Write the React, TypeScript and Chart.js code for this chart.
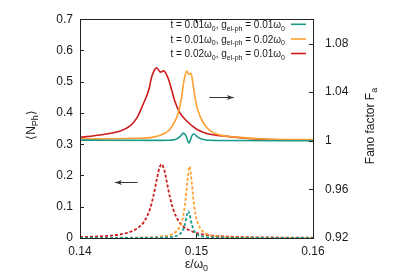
import React, { useEffect, useRef } from 'react';
import { Chart, registerables } from 'chart.js';

Chart.register(...registerables);

// ---- axis ticks ----
const xTicks = [0.14, 0.15, 0.16];
const leftTicks = [0, 0.1, 0.2, 0.3, 0.4, 0.5, 0.6, 0.7];
const rightTicks = [0.92, 0.96, 1.0, 1.04, 1.08];

// ---- <N_Ph> (dashed, left axis) ----
const tealDashX = [0.140, 0.146, 0.147, 0.148, 0.1485, 0.1488, 0.149, 0.1492, 0.1493, 0.1494, 0.1496, 0.1498, 0.1501, 0.1506, 0.1516, 0.1526, 0.160];
const tealDashY = [0.0001, 0.0007, 0.0014, 0.0043, 0.0106, 0.023, 0.043, 0.077, 0.086, 0.077, 0.043, 0.023, 0.0106, 0.0043, 0.0014, 0.0007, 0.0001];

const orangeDashX = [0.140, 0.144, 0.146, 0.147, 0.148, 0.1485, 0.1488, 0.149, 0.1492, 0.1494, 0.1496, 0.1498, 0.150, 0.1503, 0.1508, 0.1518, 0.1528, 0.1548, 0.160];
const orangeDashY = [0.0003, 0.001, 0.0025, 0.005, 0.014, 0.032, 0.061, 0.103, 0.175, 0.229, 0.175, 0.103, 0.061, 0.032, 0.014, 0.005, 0.0025, 0.001, 0.0003];

const redDashX = [0.140, 0.142, 0.143, 0.144, 0.145, 0.1455, 0.146, 0.1463, 0.1466, 0.1468, 0.1470, 0.1472, 0.1474, 0.1477, 0.148, 0.1485, 0.149, 0.150, 0.151, 0.152, 0.154, 0.157, 0.160];
const redDashY = [0.003, 0.006, 0.009, 0.016, 0.033, 0.052, 0.092, 0.134, 0.189, 0.222, 0.236, 0.222, 0.189, 0.134, 0.092, 0.052, 0.033, 0.016, 0.009, 0.006, 0.003, 0.0015, 0.001];

// ---- Fano factor (solid, right axis) ----
const tealSolidX = [0.140, 0.147, 0.1482, 0.1486, 0.14887, 0.1491, 0.14936, 0.1496, 0.14979, 0.1501, 0.1506, 0.152, 0.160];
const tealSolidY = [1.0005, 1.0003, 1.001, 1.0035, 1.0063, 1.004, 0.9982, 1.004, 1.0055, 1.003, 1.001, 1.0002, 1.0];

const orangeSolidX = [0.140, 0.1446, 0.14629, 0.14715, 0.14773, 0.14815, 0.14844, 0.14873, 0.14893, 0.14916, 0.14933, 0.14953, 0.14973, 0.14996, 0.1503, 0.15088, 0.15173, 0.15345, 0.1563, 0.160];
const orangeSolidY = [1.0014, 1.002, 1.003, 1.0055, 1.0095, 1.0162, 1.023, 1.0363, 1.0497, 1.0573, 1.0546, 1.0555, 1.0444, 1.031, 1.0203, 1.0109, 1.0055, 1.003, 1.0013, 1.001];

const redSolidX = [0.140, 0.1417, 0.1434, 0.1443, 0.1449, 0.1454, 0.1459, 0.14615, 0.14644, 0.14658, 0.1469, 0.14718, 0.14758, 0.14787, 0.14815, 0.14858, 0.14916, 0.15002, 0.15088, 0.15202, 0.1563, 0.160];
const redSolidY = [1.0028, 1.0048, 1.0078, 1.0122, 1.019, 1.0296, 1.0417, 1.0524, 1.059, 1.0600, 1.0565, 1.0575, 1.051, 1.0417, 1.0323, 1.023, 1.0162, 1.0095, 1.006, 1.0042, 1.001, 1.0008];

// ---- legend entries (text pieces: n = normal, s = subscript) ----
const legendEntries = [
  [{ n: 't = 0.01ω' }, { s: '0' }, { n: ', g' }, { s: 'el-ph' }, { n: ' = 0.01ω' }, { s: '0' }],
  [{ n: 't = 0.01ω' }, { s: '0' }, { n: ', g' }, { s: 'el-ph' }, { n: ' = 0.02ω' }, { s: '0' }],
  [{ n: 't = 0.02ω' }, { s: '0' }, { n: ', g' }, { s: 'el-ph' }, { n: ' = 0.01ω' }, { s: '0' }],
];

// ---- arrows (data coordinates) ----
const arrows = [
  { x0: 0.1511, x1: 0.1532, y: 1.036, axis: 'y1' },
  { x0: 0.14495, x1: 0.1430, y: 0.179, axis: 'y' },
];

const TEAL = '#1a9a88';
const ORANGE = '#ffa030';
const RED = '#cc1c1c';
const FONT = '"Liberation Sans", Arial, Helvetica, sans-serif';
const TEXT = '#1a1a1a';

const zip = (xs: number[], ys: number[]) => xs.map((x, i) => ({ x, y: ys[i] }));

function drawPieces(ctx: CanvasRenderingContext2D, pieces: any[], x: number, y: number, size: number, subSize: number, align: 'left' | 'right' | 'center') {
  const widths = pieces.map((p) => {
    ctx.font = `${p.s !== undefined ? subSize : size}px ${FONT}`;
    return ctx.measureText(p.s !== undefined ? p.s : p.n).width;
  });
  const total = widths.reduce((a, b) => a + b, 0);
  let cx = align === 'left' ? x : align === 'right' ? x - total : x - total / 2;
  ctx.textAlign = 'left';
  ctx.textBaseline = 'alphabetic';
  pieces.forEach((p, i) => {
    const isSub = p.s !== undefined;
    ctx.font = `${isSub ? subSize : size}px ${FONT}`;
    ctx.fillText(isSub ? p.s : p.n, cx, isSub ? y + size * 0.28 : y);
    cx += widths[i];
  });
  return total;
}

const decor = {
  id: 'decor',
  afterDraw(chart: any) {
    const { ctx, chartArea } = chart;
    const { left, right, top, bottom } = chartArea;
    const xs = chart.scales.x, yl = chart.scales.y, yr = chart.scales.y1;
    ctx.save();
    // border
    ctx.strokeStyle = '#222';
    ctx.lineWidth = 1;
    ctx.strokeRect(Math.round(left) + 0.5, Math.round(top) + 0.5, Math.round(right - left), Math.round(bottom - top));
    // inward ticks
    const tl = 4;
    ctx.beginPath();
    xTicks.forEach((v) => {
      const px = Math.round(xs.getPixelForValue(v)) + 0.5;
      ctx.moveTo(px, bottom); ctx.lineTo(px, bottom - tl);
      ctx.moveTo(px, top); ctx.lineTo(px, top + tl);
    });
    leftTicks.forEach((v) => {
      const py = Math.round(yl.getPixelForValue(v)) + 0.5;
      ctx.moveTo(left, py); ctx.lineTo(left + tl, py);
    });
    rightTicks.forEach((v) => {
      const py = Math.round(yr.getPixelForValue(v)) + 0.5;
      ctx.moveTo(right, py); ctx.lineTo(right - tl, py);
    });
    ctx.stroke();

    // legend
    ctx.fillStyle = TEXT;
    const colors = [TEAL, ORANGE, RED];
    const rowY = [24.3, 39, 53.5];
    legendEntries.forEach((pieces, i) => {
      ctx.fillStyle = TEXT;
      drawPieces(ctx, pieces, 285, rowY[i] + 3.5, 10, 7, 'right');
      ctx.strokeStyle = colors[i];
      ctx.lineWidth = 1.6;
      ctx.beginPath();
      ctx.moveTo(291, rowY[i]); ctx.lineTo(306, rowY[i]);
      ctx.stroke();
    });

    // arrows
    ctx.strokeStyle = '#333';
    ctx.fillStyle = '#333';
    ctx.lineWidth = 1;
    arrows.forEach((a) => {
      const sc = a.axis === 'y1' ? yr : yl;
      const x0 = xs.getPixelForValue(a.x0), x1 = xs.getPixelForValue(a.x1);
      const py = Math.round(sc.getPixelForValue(a.y)) + 0.5;
      const dir = x1 > x0 ? 1 : -1;
      ctx.beginPath();
      ctx.moveTo(x0, py); ctx.lineTo(x1, py);
      ctx.stroke();
      ctx.beginPath();
      ctx.moveTo(x1, py);
      ctx.lineTo(x1 - dir * 7, py - 2.5);
      ctx.lineTo(x1 - dir * 5, py);
      ctx.lineTo(x1 - dir * 7, py + 2.5);
      ctx.closePath();
      ctx.fill();
    });

    // axis titles
    ctx.fillStyle = TEXT;
    ctx.save();
    ctx.translate(35, 125);
    ctx.rotate(-Math.PI / 2);
    drawPieces(ctx, [{ n: '⟨N' }, { s: 'Ph' }, { n: '⟩' }], 0, 0, 12, 9, 'center');
    ctx.restore();
    ctx.save();
    ctx.translate(374, 126);
    ctx.rotate(-Math.PI / 2);
    drawPieces(ctx, [{ n: 'Fano factor F' }, { s: 'a' }], 0, 0, 12, 9, 'center');
    ctx.restore();
    drawPieces(ctx, [{ n: 'ε/ω' }, { s: '0' }], (left + right) / 2, 268, 12, 9, 'center');
    ctx.restore();
  },
};

const fmt = (v: number) => String(+Number(v).toFixed(2));

export default function App() {
  const ref = useRef<HTMLCanvasElement>(null);
  useEffect(() => {
    document.body.style.margin = '0';
    Chart.defaults.font.family = FONT;
    const solid = (data: any, color: string) => ({
      data, borderColor: color, backgroundColor: color, borderWidth: 1.6,
      pointRadius: 0, yAxisID: 'y1', cubicInterpolationMode: 'monotone' as const, fill: false,
    });
    const dashed = (data: any, color: string) => ({
      data, borderColor: color, backgroundColor: color, borderWidth: 1.8, borderDash: [3, 2],
      pointRadius: 0, yAxisID: 'y', cubicInterpolationMode: 'monotone' as const, fill: false,
    });
    const chart = new Chart(ref.current!, {
      type: 'line',
      data: {
        datasets: [
          solid(zip(tealSolidX, tealSolidY), TEAL),
          solid(zip(orangeSolidX, orangeSolidY), ORANGE),
          solid(zip(redSolidX, redSolidY), RED),
          dashed(zip(tealDashX, tealDashY), TEAL),
          dashed(zip(orangeDashX, orangeDashY), ORANGE),
          dashed(zip(redDashX, redDashY), RED),
        ],
      },
      options: {
        responsive: false,
        animation: false,
        devicePixelRatio: 1,
        layout: { padding: { top: 14, left: 0, right: 0, bottom: 0 } },
        plugins: { legend: { display: false }, tooltip: { enabled: false } },
        scales: {
          x: {
            type: 'linear', min: 0.14, max: 0.16,
            afterBuildTicks: (s: any) => { s.ticks = xTicks.map((value) => ({ value })); },
            afterFit: (s: any) => { s.height = 41; },
            grid: { display: false, drawTicks: false },
            border: { display: false },
            ticks: { color: TEXT, font: { size: 12 }, padding: 6, maxRotation: 0, callback: (v: any) => fmt(v) },
          },
          y: {
            type: 'linear', position: 'left', min: 0, max: 0.7,
            afterBuildTicks: (s: any) => { s.ticks = leftTicks.map((value) => ({ value })); },
            afterFit: (s: any) => { s.width = 80; },
            grid: { display: false, drawTicks: false },
            border: { display: false },
            ticks: { color: TEXT, font: { size: 12 }, padding: 7, callback: (v: any) => fmt(v) },
          },
          y1: {
            type: 'linear', position: 'right', min: 0.92, max: 1.1,
            afterBuildTicks: (s: any) => { s.ticks = rightTicks.map((value) => ({ value })); },
            afterFit: (s: any) => { s.width = 86; },
            grid: { display: false, drawTicks: false },
            border: { display: false },
            ticks: { color: TEXT, font: { size: 12 }, padding: 12, callback: (v: any) => fmt(v) },
          },
        },
      },
      plugins: [decor],
    } as any);
    return () => chart.destroy();
  }, []);
  return (
    <div style={{ position: 'absolute', left: 0, top: 0, width: 399, height: 279, background: '#fff' }}>
      <canvas ref={ref} width={399} height={279} />
    </div>
  );
}
